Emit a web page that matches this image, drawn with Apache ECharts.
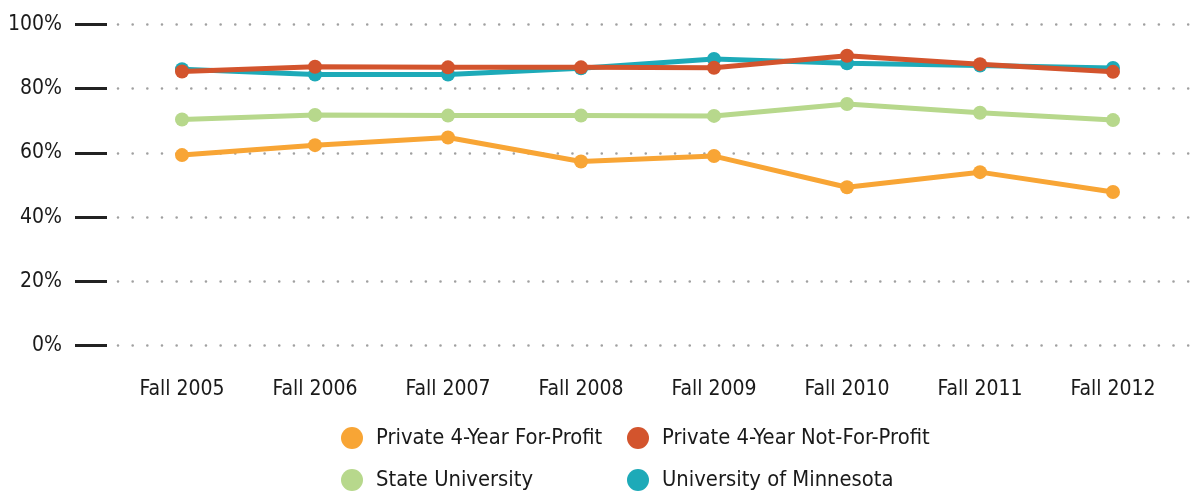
<!DOCTYPE html>
<html>
<head>
<meta charset="utf-8">
<script src="https://cdn.jsdelivr.net/npm/echarts@6/dist/echarts.min.js"></script>
<style>
html,body{margin:0;padding:0;background:#fff;}
#chart{width:1204px;height:491px;}
</style>
</head>
<body>
<div id="chart"></div>
<script>
const categories = ['Fall 2005','Fall 2006','Fall 2007','Fall 2008','Fall 2009','Fall 2010','Fall 2011','Fall 2012'];
const forProfit    = [59.3, 62.4, 64.8, 57.3, 59.0, 49.3, 54.0, 47.8];
const notForProfit = [85.3, 86.8, 86.6, 86.6, 86.5, 90.2, 87.6, 85.2];
const stateUniv    = [70.4, 71.8, 71.6, 71.6, 71.5, 75.2, 72.5, 70.2];
const uMinnesota   = [86.0, 84.4, 84.4, 86.3, 89.2, 87.9, 87.2, 86.4];
const seriesNames = ['Private 4-Year For-Profit','Private 4-Year Not-For-Profit','State University','University of Minnesota'];
const colors = ['#F8A535','#D3542D','#B7D88C','#1DAAB8'];

const FONT = "'DejaVu Sans Condensed', 'Liberation Sans Narrow', sans-serif";
const chart = echarts.init(document.getElementById('chart'), null, {renderer:'canvas'});

function mkSeries(name, data, color, z){
  return {
    name, type:'line', data, xAxisIndex:0, yAxisIndex:0,
    symbol:'circle', symbolSize:14, z,
    itemStyle:{color},
    lineStyle:{color, width:5},
    emphasis:{disabled:true},
    animation:false
  };
}
function mkLegend(name, left, top){
  return {
    data:[name], left, top, orient:'horizontal',
    icon:'circle', itemWidth:38, itemHeight:22,
    selectedMode:false,
    textStyle:{fontFamily:FONT, fontSize:21.8, color:'#1a1a1a'}
  };
}

chart.setOption({
  animation:false,
  color: colors,
  grid:[
    {left:115.5, right:24.5, top:24.3, bottom:145.3},
    {left:118, right:3, top:24.3, bottom:145.3, z:0}
  ],
  legend:[
    mkLegend(seriesNames[0], 336, 422),
    mkLegend(seriesNames[1], 622, 422),
    mkLegend(seriesNames[2], 336, 464),
    mkLegend(seriesNames[3], 622, 464)
  ],
  xAxis:[
    {
      type:'category', gridIndex:0, data:categories, boundaryGap:true,
      axisLine:{show:false}, axisTick:{show:false}, splitLine:{show:false},
      axisLabel:{fontFamily:FONT, fontSize:21, color:'#1a1a1a', margin:33}
    },
    {type:'value', gridIndex:1, show:false, min:0, max:1}
  ],
  yAxis:[
    {
      type:'value', gridIndex:0, min:0, max:100, interval:20, offset:8.5,
      axisLine:{show:false},
      axisTick:{show:true, length:32, lineStyle:{color:'#222', width:3}},
      splitLine:{show:false},
      axisLabel:{fontFamily:FONT, fontSize:21, color:'#1a1a1a', margin:45, formatter:'{value}%'}
    },
    {
      type:'value', gridIndex:1, min:0, max:100, interval:20,
      axisLine:{show:false}, axisTick:{show:false}, axisLabel:{show:false},
      splitLine:{show:true, lineStyle:{color:'#a0a0a0', width:2.6, type:[0.01,14.65], cap:'round'}}
    }
  ],
  series:[
    mkSeries(seriesNames[2], stateUniv, colors[2], 2),
    mkSeries(seriesNames[0], forProfit, colors[0], 3),
    mkSeries(seriesNames[3], uMinnesota, colors[3], 4),
    mkSeries(seriesNames[1], notForProfit, colors[1], 5)
  ]
});
</script>
</body>
</html>
